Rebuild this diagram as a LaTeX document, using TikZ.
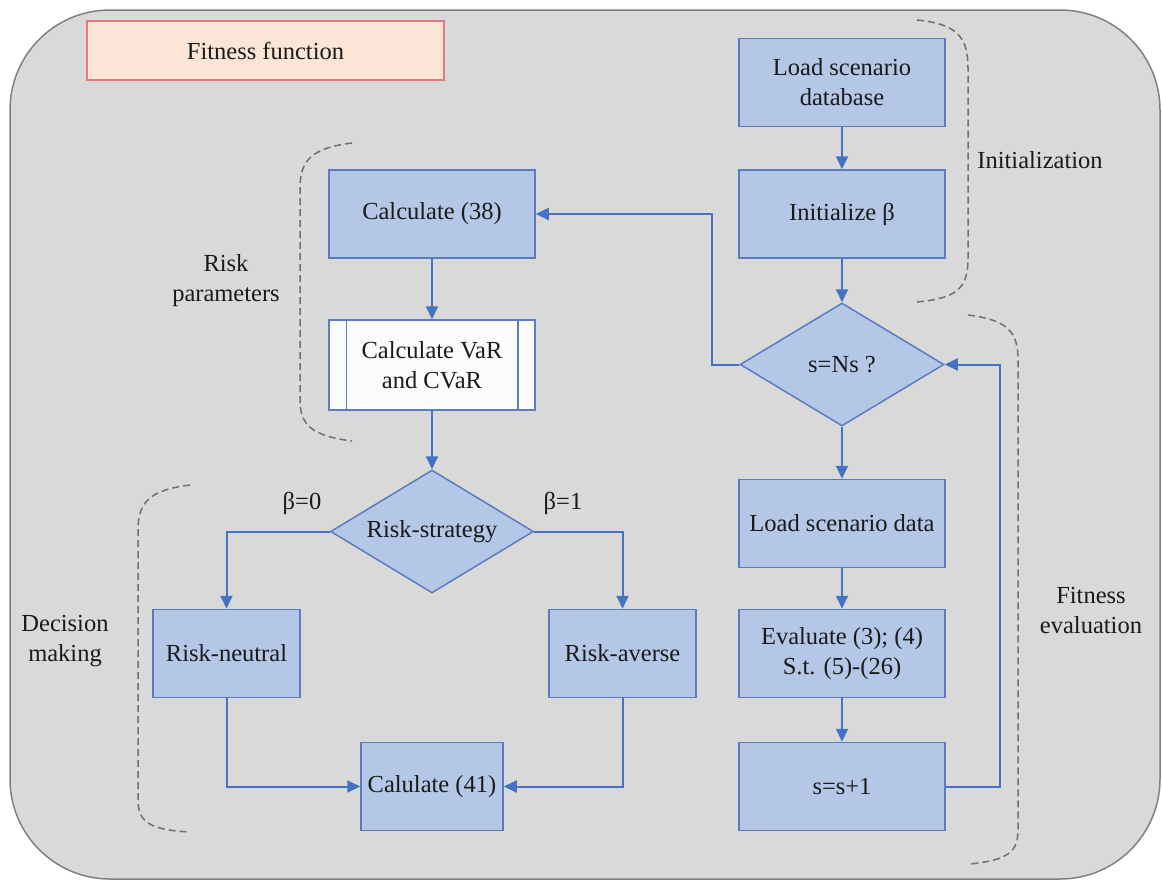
\documentclass[tikz,border=0pt]{standalone}
\usepackage{fontspec}
\setmainfont{Liberation Serif}
\newfontfamily\labelfont{Liberation Serif}
\usetikzlibrary{shapes.geometric,arrows.meta}
\definecolor{panel}{HTML}{D9D9D9}
\definecolor{panelline}{HTML}{808080}
\definecolor{boxfill}{HTML}{B4C7E7}
\definecolor{boxline}{HTML}{5B7DBF}
\definecolor{flow}{HTML}{4472C4}
\definecolor{titlefill}{HTML}{FBE5D6}
\definecolor{titleline}{HTML}{E8787A}
\definecolor{ink}{HTML}{1A1A1A}
\definecolor{bracket}{HTML}{707070}
\begin{document}
\begin{tikzpicture}[x=1pt,y=-1pt,
  every node/.style={text=ink,font=\labelfont\fontsize{24.5}{30}\selectfont},
  stepbox/.style={draw=boxline,fill=boxfill,line width=1.5pt,
    minimum width=206pt,minimum height=88pt,inner sep=0pt,align=center},
  smallbox/.style={stepbox,minimum width=147pt},
  decision/.style={diamond,draw=boxline,fill=boxfill,line width=1.5pt,
    minimum width=204pt,minimum height=123pt,inner sep=0pt},
  arr/.style={draw=flow,line width=2pt,
    -{Triangle[length=13pt,width=12pt,fill=flow]}},
  grp/.style={draw=bracket,line width=1.5pt,dash pattern=on 7pt off 4pt},
  lbl/.style={align=center}]
\useasboundingbox (0,0) rectangle (1163,881);

% panel and title
\draw[fill=panel,draw=panelline,line width=1.5pt,rounded corners=100pt]
  (10,10) rectangle (1160,879);
\node[draw=titleline,fill=titlefill,line width=1.5pt,minimum width=357pt,
  minimum height=59pt,inner sep=0pt] (title) at (265.5,50.5) {Fitness function};

% right column
\node[stepbox] (load)  at (842,82.5)  {Load scenario\\database};
\node[stepbox] (init)  at (842,214)   {Initialize β};
\node[decision] (ns)   at (842,364.5) {};
\node (nstext) at (ns.center) {s=Ns ?};
\node[stepbox] (data)  at (842,523.5) {Load scenario data};
\node[stepbox] (eval)  at (842,653.5) {Evaluate (3); (4)\\S.t. (5)-(26)};
\node[stepbox] (ss)    at (842,786.5) {s=s+1};

% left column
\node[stepbox] (c38)   at (432,214)   {Calculate (38)};
\node[stepbox,fill=white!92!boxfill,minimum height=90pt] (var) at (432,365)
  {Calculate VaR\\and CVaR};
\draw[boxline,line width=1.5pt]
  ([xshift=18pt]var.north west) -- ([xshift=18pt]var.south west)
  ([xshift=-18pt]var.north east) -- ([xshift=-18pt]var.south east);
\node[decision,minimum width=203pt] (rs) at (432,531.5) {};
\node (rstext) at (rs.center) {Risk-strategy};
\node[smallbox] (rn)   at (226.5,653.5) {Risk-neutral};
\node[smallbox] (ra)   at (622.5,653.5) {Risk-averse};
\node[stepbox,minimum width=142pt] (c41) at (432,786.5) {Calulate (41)};

% branch labels
\node (b0) at (302,503) {β=0};
\node (b1) at (563,503) {β=1};

% flow
\draw[arr] (load) -- (init);
\draw[arr] (init) -- (ns);
\draw[arr] (ns) -- (data);
\draw[arr] (data) -- (eval);
\draw[arr] (eval) -- (ss);
\draw[arr] (ss.east) -- ++(54,0) |- (ns.east);
\draw[arr] (ns.west) -- ++(-27,0) |- (c38.east);
\draw[arr] (c38) -- (var);
\draw[arr] (var) -- (rs);
\draw[arr] (rs.west) -| (rn.north);
\draw[arr] (rs.east) -| (ra.north);
\draw[arr] (rn.south) |- (c41.west);
\draw[arr] (ra.south) |- (c41.east);

% group brackets
\draw[grp] (917,20) .. controls (958,24) and (968,38) .. (968,68)
  -- (968,258) .. controls (968,288) and (958,298) .. (917,302);
\draw[grp] (352,143) .. controls (312,148) and (300,160) .. (300,188)
  -- (300,400) .. controls (300,425) and (312,436) .. (352,441);
\draw[grp] (190,485) .. controls (150,490) and (138,502) .. (138,530)
  -- (138,800) .. controls (138,822) and (150,830) .. (190,832);
\draw[grp] (968,315) .. controls (1008,320) and (1018,332) .. (1018,360)
  -- (1018,830) .. controls (1018,852) and (1008,860) .. (970,864);

% group labels
\node[lbl] (initl) at (1040,160) {Initialization};
\node[lbl] (riskl) at (226,281) {Risk\\parameters};
\node[lbl] (decl)  at (65,641)  {Decision\\making};
\node[lbl] (fitl)  at (1091,611) {Fitness\\evaluation};
\end{tikzpicture}
\end{document}
